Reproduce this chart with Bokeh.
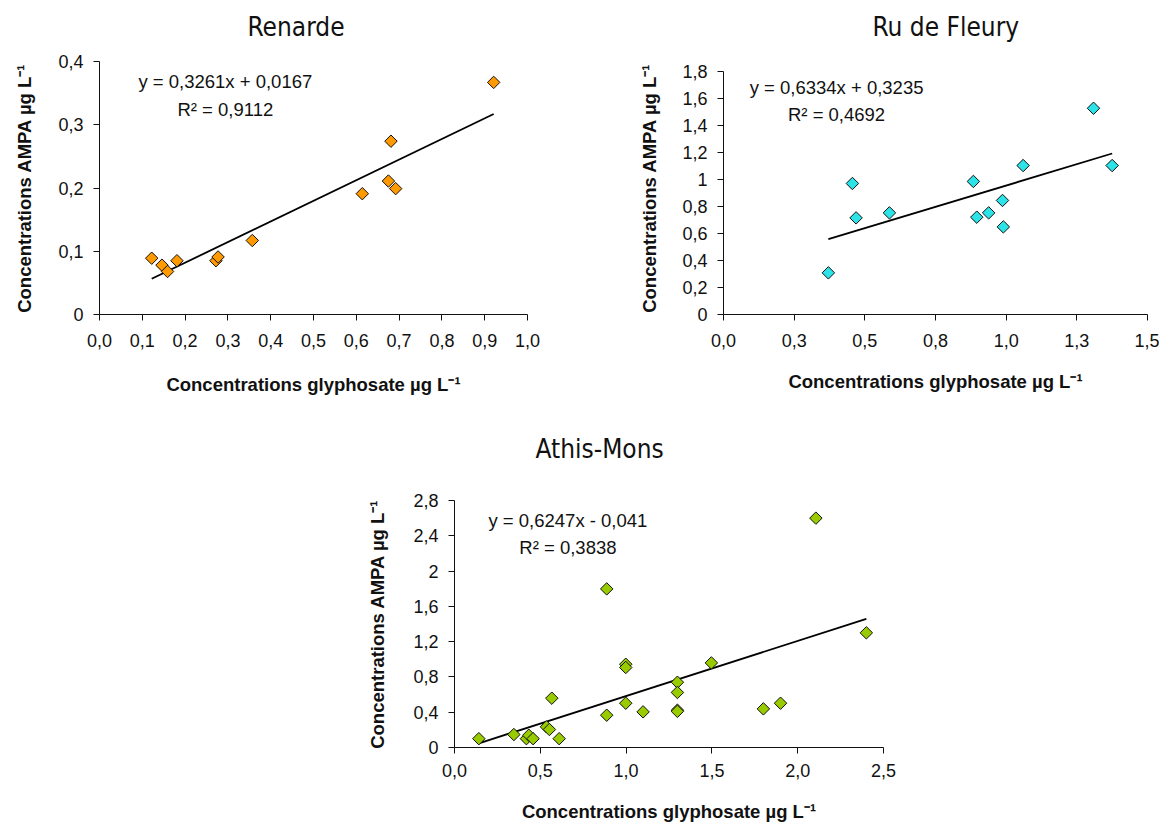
import numpy as np
from bokeh.plotting import figure
from bokeh.models import ColumnDataSource, Range1d, FixedTicker, Label, Title, Spacer
from bokeh.layouts import column, row
from bokeh.embed import file_html
from bokeh.resources import INLINE

# ---------------- data ----------------
titles = ["Renarde", "Ru de Fleury", "Athis-Mons"]

renarde_gly = [0.122, 0.146, 0.159, 0.181, 0.272, 0.277, 0.357, 0.614, 0.681, 0.675, 0.692, 0.921]
renarde_ampa = [0.089, 0.078, 0.068, 0.085, 0.085, 0.091, 0.117, 0.191, 0.274, 0.211, 0.199, 0.367]

fleury_gly = [0.371, 0.456, 0.469, 0.587, 0.884, 0.896, 0.938, 0.987, 0.990, 1.060, 1.309, 1.375]
fleury_ampa = [0.309, 0.972, 0.717, 0.754, 0.987, 0.722, 0.754, 0.846, 0.650, 1.105, 1.530, 1.105]

athis_gly = [0.142, 0.346, 0.419, 0.433, 0.458, 0.536, 0.553, 0.567, 0.610, 0.887, 0.887,
             0.998, 0.998, 0.998, 1.099, 1.299, 1.299, 1.299, 1.299, 1.497, 1.800, 1.900, 2.106, 2.400]
athis_ampa = [0.100, 0.147, 0.100, 0.139, 0.100, 0.234, 0.204, 0.559, 0.100, 1.798, 0.366,
              0.944, 0.907, 0.502, 0.404, 0.740, 0.624, 0.423, 0.410, 0.959, 0.438, 0.502, 2.600, 1.300]

trend_slope = [0.3261, 0.6334, 0.6247]
trend_intercept = [0.0167, 0.3235, -0.041]
equations = ["y = 0,3261x + 0,0167", "y = 0,6334x + 0,3235", "y = 0,6247x - 0,041"]
r2_texts = ["R² = 0,9112", "R² = 0,4692", "R² = 0,3838"]

renarde_xticks = [0.0, 0.1, 0.2, 0.3, 0.4, 0.5, 0.6, 0.7, 0.8, 0.9, 1.0]
renarde_xlabels = ["0,0", "0,1", "0,2", "0,3", "0,4", "0,5", "0,6", "0,7", "0,8", "0,9", "1,0"]
renarde_yticks = [0.0, 0.1, 0.2, 0.3, 0.4]
renarde_ylabels = ["0", "0,1", "0,2", "0,3", "0,4"]

fleury_xticks = [0.0, 0.25, 0.5, 0.75, 1.0, 1.25, 1.5]
fleury_xlabels = ["0,0", "0,3", "0,5", "0,8", "1,0", "1,3", "1,5"]
fleury_yticks = [0.0, 0.2, 0.4, 0.6, 0.8, 1.0, 1.2, 1.4, 1.6, 1.8]
fleury_ylabels = ["0", "0,2", "0,4", "0,6", "0,8", "1", "1,2", "1,4", "1,6", "1,8"]

athis_xticks = [0.0, 0.5, 1.0, 1.5, 2.0, 2.5]
athis_xlabels = ["0,0", "0,5", "1,0", "1,5", "2,0", "2,5"]
athis_yticks = [0.0, 0.4, 0.8, 1.2, 1.6, 2.0, 2.4, 2.8]
athis_ylabels = ["0", "0,4", "0,8", "1,2", "1,6", "2", "2,4", "2,8"]

x_label = "Concentrations glyphosate µg L⁻¹"
y_label = "Concentrations AMPA µg L⁻¹"

colors = ["#FF9900", "#2CE3E8", "#99CC00"]

# ---------------- styling ----------------
FONT = "Liberation Sans"
TITLE_FONT = "DejaVu Sans Condensed"


def make_chart(idx, xs, ys, xticks, xlabels, yticks, ylabels, width, height, borders,
               title_offset, title_gap, eq_pos, r2_pos, y_top_factor=1.0,
               x_std=(13, 19), y_std=(10, 22)):
    left, top, right, bottom = borders
    p = figure(width=width, height=height, output_backend="svg", toolbar_location=None,
               title=None,
               x_range=Range1d(xticks[0], xticks[-1]),
               y_range=Range1d(yticks[0], yticks[-1] * y_top_factor),
               min_border_left=left, min_border_top=top, min_border_right=right,
               min_border_bottom=bottom)
    # invisible spacer title (closest to frame) then the real title above it
    p.add_layout(Title(text=" ", text_font_size="2px", standoff=title_gap,
                       text_color="white"), "above")
    p.add_layout(Title(text=titles[idx], align="left", offset=title_offset, standoff=0,
                       text_font=TITLE_FONT, text_font_size="26px", text_font_style="normal",
                       text_color="#111111"), "above")
    p.outline_line_color = None
    p.xgrid.visible = False
    p.ygrid.visible = False
    p.background_fill_color = "white"
    p.border_fill_color = "white"

    p.xaxis.ticker = FixedTicker(ticks=xticks)
    p.xaxis.major_label_overrides = {t: l for t, l in zip(xticks, xlabels)}
    p.yaxis.ticker = FixedTicker(ticks=yticks)
    p.yaxis.major_label_overrides = {t: l for t, l in zip(yticks, ylabels)}
    p.yaxis.bounds = (yticks[0], yticks[-1])
    p.xaxis.axis_label = x_label
    p.yaxis.axis_label = y_label
    for ax in (p.xaxis, p.yaxis):
        ax.axis_line_color = "#111111"
        ax.major_tick_line_color = "#111111"
        ax.major_tick_out = 6
        ax.major_tick_in = 0
        ax.minor_tick_out = 0
        ax.minor_tick_in = 0
        ax.major_label_text_font = FONT
        ax.major_label_text_font_size = "18px"
        ax.major_label_text_color = "#111111"
        ax.axis_label_text_font = FONT
        ax.axis_label_text_font_size = "18.5px"
        ax.axis_label_text_font_style = "bold"
        ax.axis_label_text_color = "#111111"
    p.xaxis.major_label_standoff = x_std[0]
    p.xaxis.axis_label_standoff = x_std[1]
    p.yaxis.major_label_standoff = y_std[0]
    p.yaxis.axis_label_standoff = y_std[1]

    # trend line from fitted coefficients over the data extent
    x0, x1 = min(xs), max(xs)
    tx = [x0, x1]
    ty = [trend_slope[idx] * v + trend_intercept[idx] for v in tx]
    p.line(tx, ty, line_color="black", line_width=1.8)

    src = ColumnDataSource(dict(x=xs, y=ys))
    p.scatter("x", "y", source=src, marker="square", angle=np.pi / 4, size=8.8,
              fill_color=colors[idx], line_color="#111111", line_width=1)

    p.add_layout(Label(x=eq_pos[0], y=eq_pos[1], text=equations[idx], text_align="center",
                       text_baseline="middle", text_font=FONT, text_font_size="18.5px",
                       text_color="#111111"))
    p.add_layout(Label(x=r2_pos[0], y=r2_pos[1], text=r2_texts[idx], text_align="center",
                       text_baseline="middle", text_font=FONT, text_font_size="18.5px",
                       text_color="#111111"))
    return p


# row 1 frames are aligned by Bokeh: top 61, bottom 314
p1 = make_chart(0, renarde_gly, renarde_ampa, renarde_xticks, renarde_xlabels,
                renarde_yticks, renarde_ylabels, 620, 400, (99, 61, 93, 86),
                148, 16, (0.294, 0.368), (0.294, 0.3246),
                x_std=(13, 24), y_std=(10, 20))
p2 = make_chart(1, fleury_gly, fleury_ampa, fleury_xticks, fleury_xlabels,
                fleury_yticks, fleury_ylabels, 539, 400, (103, 61, 12, 86),
                149, 16, (0.400, 1.682), (0.400, 1.484), y_top_factor=1.0427,
                x_std=(13, 21), y_std=(10, 19))
p3 = make_chart(2, athis_gly, athis_ampa, athis_xticks, athis_xlabels,
                athis_yticks, athis_ylabels, 700, 425, (154, 100, 117, 78),
                81, 33, (0.661, 2.577), (0.661, 2.268),
                x_std=(10, 21), y_std=(10, 22))

layout = column(row(p1, p2), row(Spacer(width=300, height=425), p3))

open("out.html", "w").write(file_html(layout, INLINE))
